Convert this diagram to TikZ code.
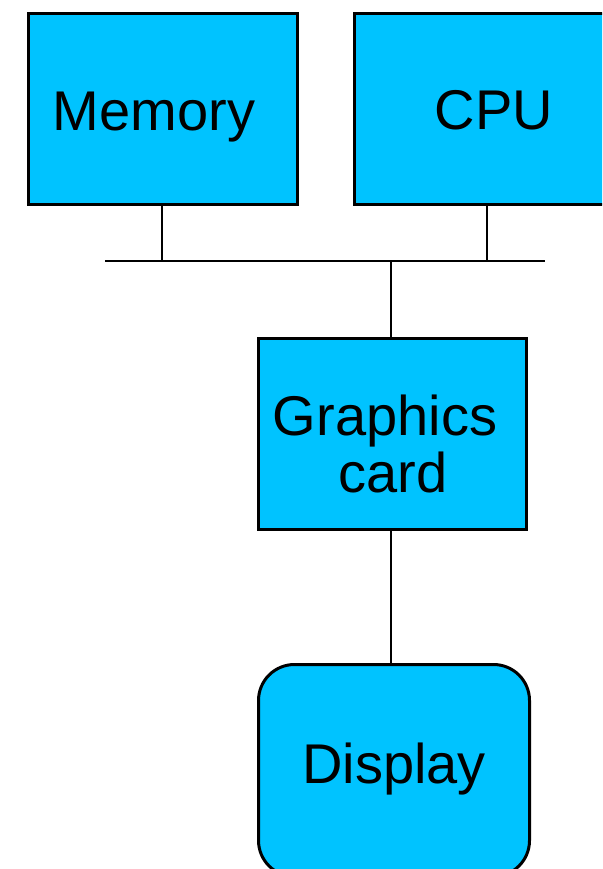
\documentclass[tikz,border=0pt]{standalone}
\usepackage{fontspec}
\setmainfont{Liberation Sans}
\definecolor{boxcyan}{HTML}{00C3FF}
\begin{document}
\begin{tikzpicture}[x=1pt,y=-1pt,
  blk/.style={draw=black,line width=3pt,fill=boxcyan,inner sep=0pt,anchor=north west},
  lbl/.style={anchor=base,inner sep=0pt,font=\fontsize{56}{58}\selectfont},
  wire/.style={line width=2.7pt}]
\useasboundingbox (0,0) rectangle (602,869);
\begin{scope}
\clip (0,0) rectangle (602,869);
\node[blk,minimum width=269pt,minimum height=191pt] (mem) at (27,12) {};
\node[blk,minimum width=290pt,minimum height=191pt] (cpu) at (353,12) {};
\node[blk,minimum width=268pt,minimum height=191pt] (gfx) at (257,337) {};
\node[blk,rounded corners=36pt,minimum width=271pt,minimum height=212pt] (disp) at (257,663) {};
\end{scope}
\node[lbl] (memt) at (154,131) {Memory};
\node[lbl] (cput) at (494,130) {CPU};
\node[lbl] (gfxt1) at (385,435) {Graphics};
\node[lbl] (gfxt2) at (393,492) {card};
\node[lbl] (dispt) at (394,783) {Display};
\coordinate (busL) at (105,261);
\coordinate (busR) at (545,261);
\coordinate (bm) at (162,261);
\coordinate (bc) at (487,261);
\coordinate (bg) at (391,261);
\draw[wire] (busL) -- (busR);
\draw[wire] (mem.south -| bm) -- (bm);
\draw[wire] (cpu.south -| bc) -- (bc);
\draw[wire] (bg) -- (gfx.north -| bg);
\draw[wire] (gfx.south -| bg) -- (disp.north -| bg);
\end{tikzpicture}
\end{document}
